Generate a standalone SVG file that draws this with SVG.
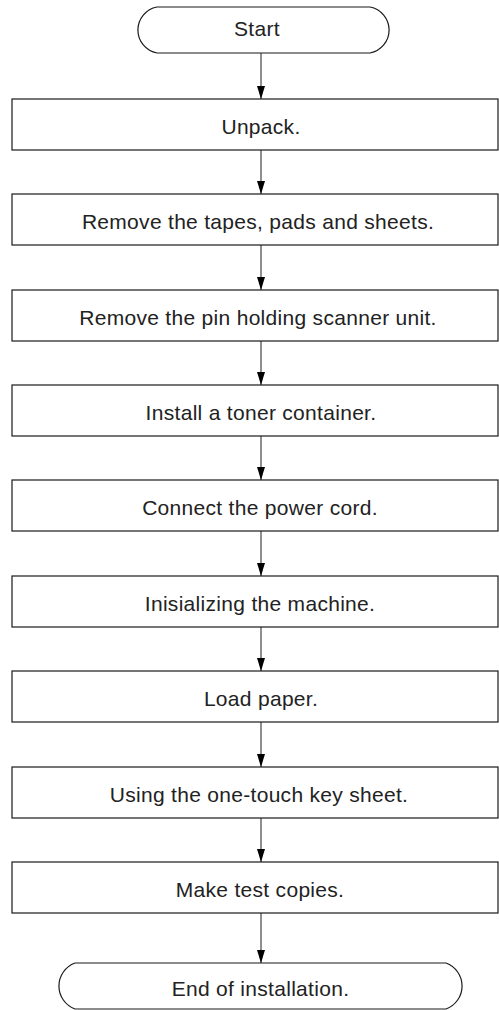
<svg xmlns="http://www.w3.org/2000/svg" width="499" height="1010" viewBox="0 0 499 1010">
<style>
.box{fill:#fff;stroke:#1a1a1a;stroke-width:1.2}
.t{font-family:"Liberation Sans",Arial,sans-serif;font-size:21px;letter-spacing:0.3px;fill:#222;text-anchor:middle}
.c{stroke:#333;stroke-width:1.1;fill:none}
</style>
<defs>
<marker id="ah" markerWidth="13" markerHeight="8" refX="13" refY="4" orient="auto" markerUnits="userSpaceOnUse" viewBox="0 0 13 8">
<path d="M0,0 L13,4 L0,8 Z" fill="#000"/>
</marker>
</defs>
<rect width="499" height="1010" fill="#fff"/>
<g id="connectors">
<path class="c" d="M261,53 V99" marker-end="url(#ah)"/>
<path class="c" d="M261,150 V194" marker-end="url(#ah)"/>
<path class="c" d="M261,245 V290" marker-end="url(#ah)"/>
<path class="c" d="M261,341 V385" marker-end="url(#ah)"/>
<path class="c" d="M261,436 V480" marker-end="url(#ah)"/>
<path class="c" d="M261,531 V576" marker-end="url(#ah)"/>
<path class="c" d="M261,627 V671" marker-end="url(#ah)"/>
<path class="c" d="M261,722 V767" marker-end="url(#ah)"/>
<path class="c" d="M261,818 V862" marker-end="url(#ah)"/>
<path class="c" d="M261,913 V963" marker-end="url(#ah)"/>
</g>
<g id="start">
<path class="box" d="M157,7 H370 A23.4,23.4 0 0 1 370,53 H157 A23.4,23.4 0 0 1 157,7 Z"/>
<text class="t" x="257" y="36">Start</text>
</g>
<g id="n1"><rect class="box" x="12" y="99" width="486" height="51"/><text class="t" x="261" y="134">Unpack.</text></g>
<g id="n2"><rect class="box" x="12" y="194" width="486" height="51"/><text class="t" x="258" y="229">Remove the tapes, pads and sheets.</text></g>
<g id="n3"><rect class="box" x="12" y="290" width="486" height="51"/><text class="t" x="258" y="325">Remove the pin holding scanner unit.</text></g>
<g id="n4"><rect class="box" x="12" y="385" width="486" height="51"/><text class="t" x="261" y="420">Install a toner container.</text></g>
<g id="n5"><rect class="box" x="12" y="480" width="486" height="51"/><text class="t" x="260" y="515">Connect the power cord.</text></g>
<g id="n6"><rect class="box" x="12" y="576" width="486" height="51"/><text class="t" x="260" y="611">Inisializing the machine.</text></g>
<g id="n7"><rect class="box" x="12" y="671" width="486" height="51"/><text class="t" x="261" y="706">Load paper.</text></g>
<g id="n8"><rect class="box" x="12" y="767" width="486" height="51"/><text class="t" x="259" y="802">Using the one-touch key sheet.</text></g>
<g id="n9"><rect class="box" x="12" y="862" width="486" height="51"/><text class="t" x="260" y="897">Make test copies.</text></g>
<g id="end">
<path class="box" d="M75,963 H446 A24.5,24.5 0 0 1 446,1009 H75 A24.5,24.5 0 0 1 75,963 Z"/>
<text class="t" x="260.5" y="996">End of installation.</text>
</g>
</svg>
